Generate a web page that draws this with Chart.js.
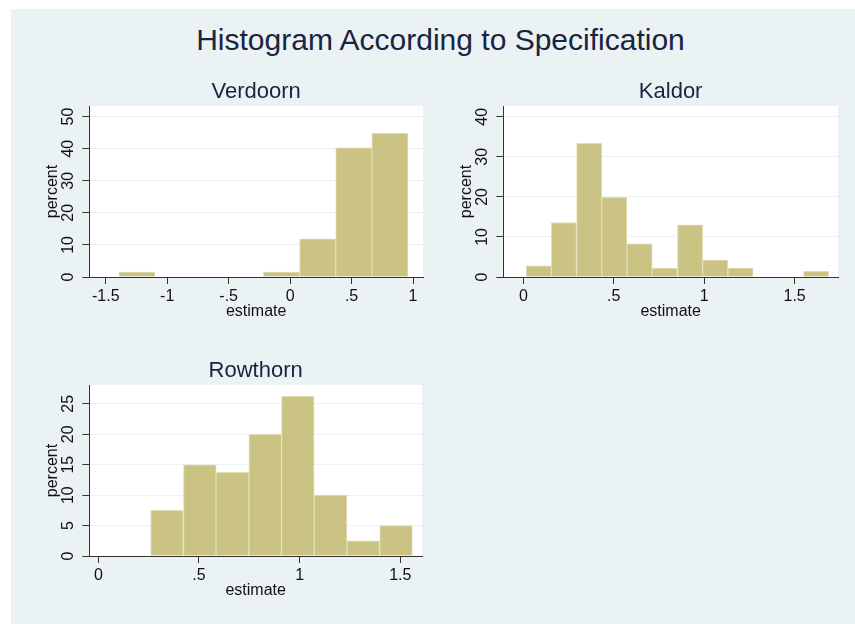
<!DOCTYPE html>
<html>
<head>
<meta charset="utf-8">
<script src="https://cdn.jsdelivr.net/npm/chart.js@4.4.1/dist/chart.umd.min.js"></script>
<style>
  body { margin: 0; background: #fff; width: 855px; height: 624px; overflow: hidden; position: relative; }
  #bg { position: absolute; left: 11px; top: 9px; width: 844px; height: 615px; background: #eaf2f3; }
  #title { position: absolute; left: 0; top: 22px; width: 881px; text-align: center;
    font: 30px/36px 'Liberation Sans', Arial, sans-serif; color: #1a2340; }
  canvas { position: absolute; }
</style>
</head>
<body>
<div id="bg"></div>
<div id="title">Histogram According to Specification</div>
<canvas id="verdoorn" width="400" height="248" style="left:30px;top:75px;width:400px;height:248px"></canvas>
<canvas id="kaldor" width="401" height="248" style="left:444px;top:75px;width:401px;height:248px"></canvas>
<canvas id="rowthorn" width="399" height="248" style="left:30px;top:354px;width:399px;height:248px"></canvas>
<script>
// bin midpoints (estimate) and percent in each bin
const verdoornBins = [-1.246, -0.952, -0.658, -0.364, -0.070, 0.224, 0.518, 0.812];
const verdoornPct = [1.5, 0, 0, 0, 1.5, 11.9, 40.3, 44.8];

const kaldorBins = [0.085, 0.224, 0.364, 0.503, 0.643, 0.782, 0.922, 1.061, 1.201, 1.340, 1.480, 1.619];
const kaldorPct = [2.8, 13.6, 33.4, 19.9, 8.3, 2.2, 13.0, 4.2, 2.2, 0, 0, 1.4];

const rowthornBins = [0.341, 0.504, 0.666, 0.829, 0.991, 1.154, 1.316, 1.479];
const rowthornPct = [7.5, 15.0, 13.75, 20.0, 26.25, 10.0, 2.5, 5.0];

// axis ticks
const verdoornXTicks = [-1.5, -1, -0.5, 0, 0.5, 1];
const verdoornXLabels = ['-1.5', '-1', '-.5', '0', '.5', '1'];
const kaldorXTicks = [0, 0.5, 1, 1.5];
const kaldorXLabels = ['0', '.5', '1', '1.5'];
const rowthornXTicks = [0, 0.5, 1, 1.5];
const rowthornXLabels = ['0', '.5', '1', '1.5'];

const verdoornYTicks = [0, 10, 20, 30, 40, 50];
const kaldorYTicks = [0, 10, 20, 30, 40];
const rowthornYTicks = [0, 5, 10, 15, 20, 25];

Chart.defaults.font.family = "'Liberation Sans', Arial, sans-serif";
Chart.defaults.color = '#111';

// white plot region like stata
const plotBg = {
  id: 'plotBg',
  beforeDraw(chart) {
    const { ctx, chartArea: a } = chart;
    ctx.save();
    ctx.fillStyle = '#ffffff';
    ctx.fillRect(a.left, a.top, a.right - a.left, a.bottom - a.top);
    ctx.restore();
  }
};

function histogram(id, name, bins, pct, xMin, xMax, xTicks, xLabels, yMax, yTicks) {
  new Chart(document.getElementById(id), {
    type: 'bar',
    data: {
      datasets: [{
        data: bins.map((b, i) => ({ x: b, y: pct[i] })),
        backgroundColor: '#cac384',
        borderColor: '#e2deb4',
        borderWidth: 1,
        borderSkipped: 'bottom',
        barPercentage: 1,
        categoryPercentage: 1
      }]
    },
    options: {
      responsive: false,
      animation: false,
      layout: { padding: { left: 0, right: 7, top: 0, bottom: 0 } },
      plugins: {
        legend: { display: false },
        tooltip: { enabled: false },
        title: {
          display: true,
          fullSize: false,
          text: name,
          color: '#1a2340',
          font: { size: 22, weight: 'normal', lineHeight: '26px' },
          padding: { top: 4, bottom: 1 }
        }
      },
      scales: {
        x: {
          type: 'linear',
          min: xMin,
          max: xMax,
          offset: false,
          afterBuildTicks: s => { s.ticks = xTicks.map(v => ({ value: v })); },
          afterFit: s => { s.height = 46; },
          ticks: {
            autoSkip: false,
            maxRotation: 0,
            padding: 3,
            color: '#111',
            font: { size: 16 },
            callback: v => xLabels[xTicks.indexOf(v)]
          },
          grid: { offset: false, drawOnChartArea: false, drawTicks: true, tickLength: 7, tickColor: '#333' },
          border: { display: true, color: '#333', width: 1 },
          title: { display: true, text: 'estimate', color: '#111', font: { size: 16 }, padding: { top: 0, bottom: 2 } }
        },
        y: {
          min: 0,
          max: yMax,
          afterBuildTicks: s => { s.ticks = yTicks.map(v => ({ value: v })); },
          afterFit: s => { s.width = 59.3; },
          ticks: {
            autoSkip: false,
            minRotation: 90,
            maxRotation: 90,
            crossAlign: 'center',
            padding: 5,
            color: '#111',
            font: { size: 16 }
          },
          grid: { color: '#eaf2f3', lineWidth: 1, drawTicks: true, tickLength: 7, tickColor: '#333' },
          border: { display: true, color: '#333', width: 1 },
          title: { display: true, text: 'percent', color: '#111', font: { size: 16 }, padding: { top: 12.6, bottom: 0 } }
        }
      }
    },
    plugins: [plotBg]
  });
}

histogram('verdoorn', 'Verdoorn', verdoornBins, verdoornPct, -1.634, 1.081, verdoornXTicks, verdoornXLabels, 53.3, verdoornYTicks);
histogram('kaldor', 'Kaldor', kaldorBins, kaldorPct, -0.111, 1.740, kaldorXTicks, kaldorXLabels, 42.7, kaldorYTicks);
histogram('rowthorn', 'Rowthorn', rowthornBins, rowthornPct, -0.045, 1.608, rowthornXTicks, rowthornXLabels, 28.1, rowthornYTicks);
</script>
</body>
</html>
